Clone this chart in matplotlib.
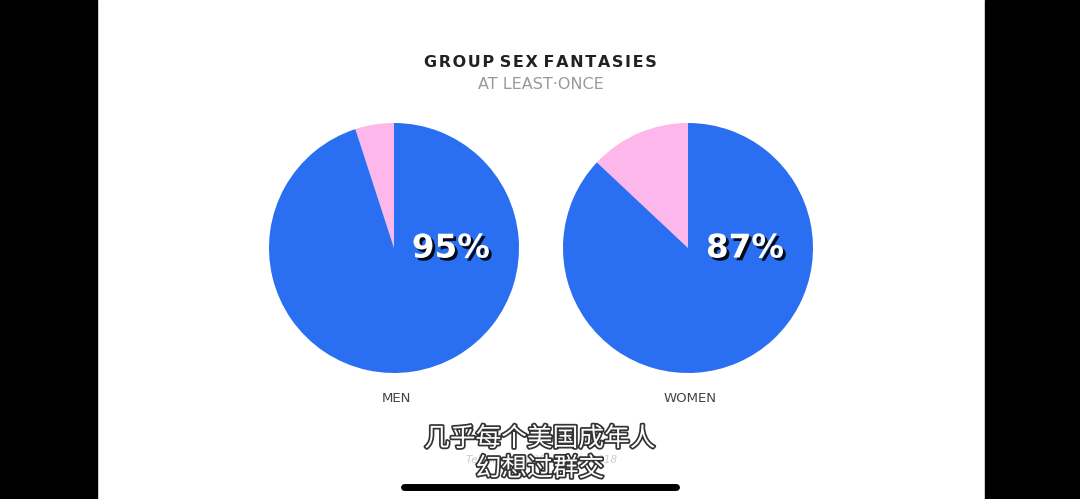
import matplotlib
matplotlib.use("Agg")
import matplotlib.pyplot as plt
import matplotlib.patheffects as pe

# data
groups = ["MEN", "WOMEN"]
yes_pct = [95, 87]
title = "GROUP SEX FANTASIES"
subtitle = "AT LEAST\u00b7ONCE"
source = "Tell Me What You Want, 2018"
caption = ["几乎每个美国成年人", "幻想过群交"]

blue = "#2a6ff2"
pink = "#fdb7ea"

W, H = 1080, 499
fig = plt.figure(figsize=(W / 100, H / 100), dpi=100)
fig.patch.set_facecolor("white")

# black side bars of the video frame
bg = fig.add_axes([0, 0, 1, 1])
bg.set_xlim(0, W)
bg.set_ylim(H, 0)
bg.axis("off")
bg.add_patch(plt.Rectangle((0, 0), 97, H, color="black"))
bg.add_patch(plt.Rectangle((985, 0), W - 985, H, color="black"))

centers = [394, 688]
cy, r = 248, 125
for cx, grp, pct in zip(centers, groups, yes_pct):
    ax = fig.add_axes([(cx - r) / W, (H - cy - r) / H, 2 * r / W, 2 * r / H])
    ax.pie([100 - pct, pct], colors=[pink, blue], startangle=90,
           counterclock=True, radius=1.0,
           wedgeprops=dict(linewidth=0))
    ax.set_xlim(-1, 1)
    ax.set_ylim(-1, 1)
    ax.set_aspect("auto")
    ax.axis("off")
    ax.text(0.455, 0.0, f"{pct}%", ha="center", va="center", color="white",
            fontsize=23.5, fontweight="bold", family="DejaVu Sans",
            path_effects=[pe.withSimplePatchShadow(offset=(2, -2), shadow_rgbFace="black", alpha=0.9)])
    bg.text(cx + 2, 398, grp, ha="center", va="center", fontsize=9.5,
            color="#444444", family="DejaVu Sans")

# letter-spaced title
spaced = "\u200a".join(title).replace("\u200a \u200a", " ")
bg.text(540, 62, spaced, ha="center", va="center",
        fontsize=11.5, fontweight="bold", color="#222222", family="DejaVu Sans")
bg.text(541, 84, subtitle, ha="center", va="center", fontsize=11.5,
        color="#999999", family="DejaVu Sans")

bg.text(541, 460, source, ha="center", va="center", fontsize=7.5,
        color="#cccccc", style="italic", family="DejaVu Sans")

for i, line in enumerate(caption):
    bg.text(540, 439 + i * 30, line, ha="center", va="center", fontsize=18.5,
            color="white", family=["Noto Sans CJK SC", "DejaVu Sans"],
            path_effects=[pe.withStroke(linewidth=2.5, foreground="#333333")])

# player progress bar
bg.plot([404, 676], [487, 487], color="black", linewidth=5, solid_capstyle="round")

fig.savefig("out.png", dpi=100)
